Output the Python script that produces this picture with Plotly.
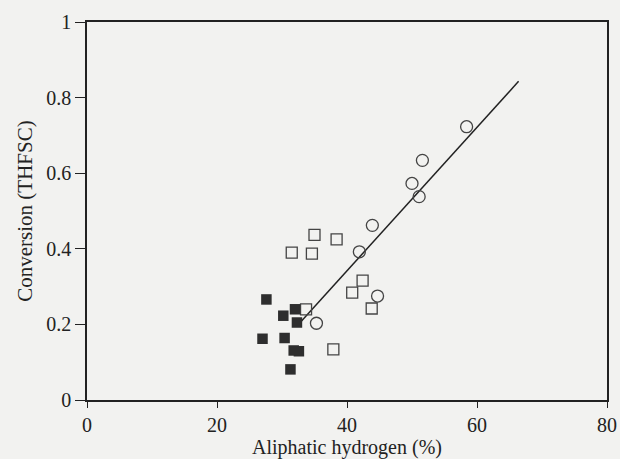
import plotly.graph_objects as go

# Open circles
circ_x = [58.4, 51.6, 50.0, 51.1, 43.9, 41.9, 44.7, 35.3]
circ_y = [0.723, 0.634, 0.573, 0.538, 0.462, 0.392, 0.275, 0.203]

# Open squares
osq_x = [35.0, 38.4, 31.5, 34.6, 42.4, 40.8, 43.8, 33.7, 37.9]
osq_y = [0.437, 0.425, 0.390, 0.387, 0.316, 0.284, 0.242, 0.240, 0.134]

# Filled squares
fsq_x = [27.6, 32.0, 30.2, 32.3, 27.0, 30.4, 31.8, 32.6, 31.3]
fsq_y = [0.266, 0.240, 0.223, 0.205, 0.162, 0.164, 0.131, 0.129, 0.081]

# Regression line end points
line_x = [32.9, 66.4]
line_y = [0.207, 0.843]

x_ticks = [0, 20, 40, 60, 80]
y_ticks = [0, 0.2, 0.4, 0.6, 0.8, 1]

ink = "#222222"
font = "Liberation Serif"
bg = "#f2f2f0"

fig = go.Figure()
fig.add_trace(go.Scatter(x=line_x, y=line_y, mode="lines",
                         line=dict(color=ink, width=1.5), showlegend=False))
fig.add_trace(go.Scatter(x=osq_x, y=osq_y, mode="markers",
                         marker=dict(symbol="square-open", size=11, color="#444444",
                                     line=dict(width=1.3)), showlegend=False))
fig.add_trace(go.Scatter(x=circ_x, y=circ_y, mode="markers",
                         marker=dict(symbol="circle-open", size=12, color="#444444",
                                     line=dict(width=1.3)), showlegend=False))
fig.add_trace(go.Scatter(x=fsq_x, y=fsq_y, mode="markers",
                         marker=dict(symbol="square", size=10.5, color="#2e2e2e",
                                     line=dict(width=0)), showlegend=False))

fig.update_layout(
    width=620, height=459,
    margin=dict(l=87, r=13, t=22, b=59),
    paper_bgcolor=bg, plot_bgcolor=bg,
    font=dict(family=font, size=20, color=ink),
    xaxis=dict(range=[0, 80], tickvals=x_ticks, ticks="outside", ticklen=6,
               tickcolor=ink, showline=True, linecolor=ink, linewidth=1.5,
               mirror=True, showgrid=False, zeroline=False, automargin=False,
               title=dict(text="Aliphatic hydrogen (%)", standoff=7,
                          font=dict(size=20))),
    yaxis=dict(range=[0, 1], tickvals=y_ticks, ticks="outside", ticklen=10,
               tickcolor=ink, showline=True, linecolor=ink, linewidth=1.5,
               mirror=True, showgrid=False, zeroline=False, automargin=False,
               title=dict(text="Conversion (THFSC)", standoff=8,
                          font=dict(size=21))),
)

fig.write_html(
    "out.html",
    config={"displayModeBar": False},
    post_script="document.body.style.margin='0';document.body.style.background='%s';" % bg,
)
